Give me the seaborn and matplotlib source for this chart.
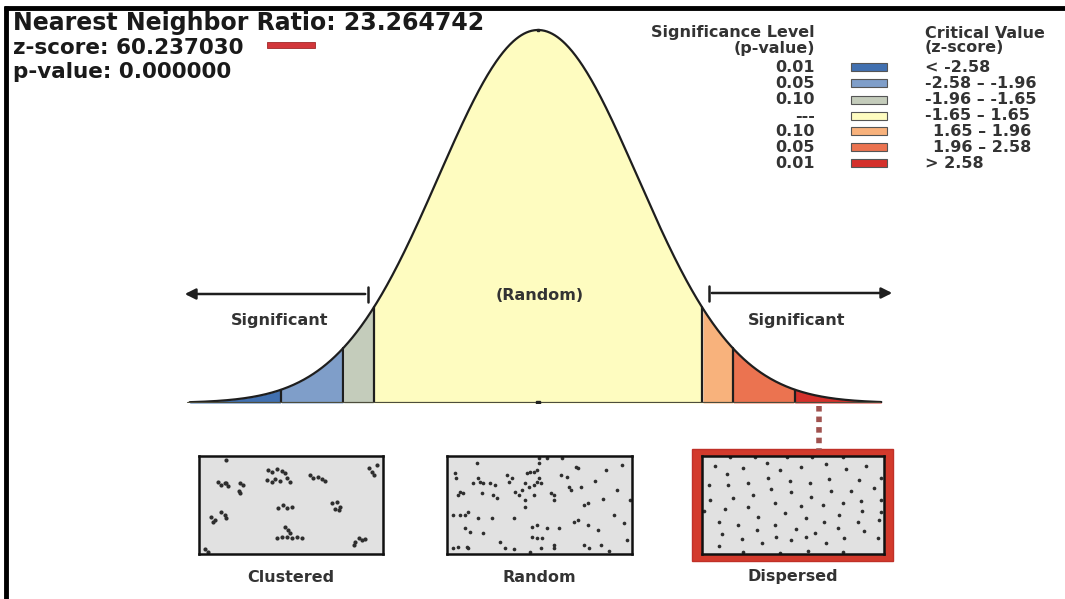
import numpy as np
import pandas as pd
import matplotlib
matplotlib.use("Agg")
import matplotlib.pyplot as plt
from matplotlib.patches import Rectangle
import seaborn as sns

# ---------------- data ----------------
critical_z = [-2.58, -1.96, -1.65, 1.65, 1.96, 2.58]
band_colors = ["#4170b0", "#7f9ec9", "#c4ccbb", "#fefcc0", "#f8b27c", "#eb7350", "#d4302b"]
p_labels = ["0.01", "0.05", "0.10", "---", "0.10", "0.05", "0.01"]
z_labels = ["< -2.58", "-2.58 – -1.96", "-1.96 – -1.65", "-1.65 – 1.65",
            "1.65 – 1.96", "1.96 – 2.58", "> 2.58"]

nn_ratio = "23.264742"
z_score = "60.237030"
p_value = "0.000000"

pattern_labels = ["Clustered", "Random", "Dispersed"]

clustered_x = [82, 57, 67, 77, 87, 82, 122, 132, 120, 122, 207, 217, 232, 247, 257, 202, 217, 227,
               242, 262, 272, 332, 342, 357, 367, 377, 507, 517, 532, 522, 237, 252, 262, 277, 397,
               412, 422, 407, 417, 37, 47, 67, 77, 82, 42, 257, 267, 272, 232, 247, 262, 277, 292,
               307, 467, 477, 487, 497, 462, 17, 27]
clustered_y = [12, 77, 87, 82, 90, 80, 82, 87, 104, 112, 42, 47, 40, 44, 52, 72, 77, 70, 74, 67,
               77, 57, 67, 64, 70, 74, 37, 47, 27, 57, 157, 147, 157, 152, 142, 137, 152, 160, 162,
               182, 192, 167, 177, 187, 197, 212, 222, 232, 247, 242, 244, 247, 242, 247, 257, 247,
               252, 250, 267, 280, 287]

random_x = [23, 28, 88, 93, 98, 78, 108, 128, 143, 138, 148, 178, 183, 193, 203, 213, 238, 248,
            258, 268, 273, 273, 268, 258, 243, 233, 223, 273, 278, 308, 318, 318, 338, 358, 368,
            363, 383, 388, 398, 408, 418, 343, 298, 38, 48, 33, 103, 18, 38, 53, 63, 93, 133, 198,
            233, 53, 68, 108, 253, 268, 298, 333, 378, 388, 418, 18, 33, 58, 63, 158, 173, 198,
            248, 278, 253, 268, 283, 318, 318, 408, 423, 233, 258, 474, 519, 543, 495, 534, 459,
            504, 450, 483, 440, 525, 465]
random_y = [52, 67, 22, 67, 77, 82, 82, 82, 87, 117, 127, 57, 77, 67, 107, 117, 52, 47, 47, 42,
            22, 7, 77, 87, 92, 82, 102, 67, 82, 112, 117, 132, 57, 62, 102, 92, 32, 37, 92, 147,
            142, 7, 7, 107, 112, 117, 112, 177, 177, 177, 167, 187, 187, 187, 152, 217, 227, 232,
            212, 207, 217, 217, 197, 192, 207, 277, 272, 272, 277, 257, 277, 280, 287, 277, 242,
            247, 247, 267, 277, 267, 277, 132, 117, 42, 27, 132, 177, 252, 267, 102, 222, 285,
            75, 200, 130]

dispersed_x = [40, 125, 195, 235, 300, 375, 435, 495, 75, 200, 265, 325, 385, 475, 540, 20, 80,
               140, 210, 270, 330, 390, 450, 520, 25, 95, 155, 220, 300, 365, 425, 480, 540, 70,
               140, 250, 315, 370, 415, 485, 50, 170, 220, 285, 340, 410, 470, 535, 60, 110, 165,
               225, 270, 315, 375, 430, 490, 532, 50, 120, 180, 125, 235, 320, 425, 85, 160, 257,
               333, 427, 5, 542]
dispersed_y = [30, 37, 22, 42, 32, 24, 40, 30, 55, 67, 74, 80, 70, 72, 67, 87, 87, 80, 99, 107,
               122, 104, 104, 97, 132, 127, 117, 140, 150, 147, 140, 135, 132, 160, 152, 172, 187,
               197, 177, 164, 197, 184, 207, 220, 232, 217, 197, 192, 235, 207, 222, 242, 252, 242,
               262, 245, 224, 245, 270, 250, 262, 287, 290, 285, 287, 4, 4, 4, 4, 4, 164, 167]

# ---------------- figure ----------------
W, H = 1065, 599
sns.set_theme(style="white")
plt.rcParams["font.family"] = ["DejaVu Sans"]
fig = plt.figure(figsize=(W / 100, H / 100), dpi=100)
fig.patch.set_facecolor("white")


def px_axes(x0, y0, x1, y1, **kw):
    return fig.add_axes([x0 / W, 1 - y1 / H, (x1 - x0) / W, (y1 - y0) / H], **kw)


# bell curve axes: z=0 at x=538, ~99.5 px per z unit, baseline at y=403
zlim = 3.6
ax = px_axes(538 - zlim * 99.5, 25, 538 + zlim * 99.5, 403)
ax.set_xlim(-zlim, zlim)
peak = 1 / np.sqrt(2 * np.pi)
ax.set_ylim(0, peak * 378 / 373)
ax.axis("off")

z_lo, z_hi = -3.5, 3.45
z = np.linspace(z_lo, z_hi, 800)
pdf = np.exp(-z ** 2 / 2) / np.sqrt(2 * np.pi)
curve = pd.DataFrame({"z": z, "density": pdf})

edges = [z_lo] + critical_z + [z_hi]
for a, b, c in zip(edges[:-1], edges[1:], band_colors):
    m = (curve.z >= a) & (curve.z <= b)
    ax.fill_between(curve.z[m], 0, curve.density[m], color=c, lw=0, zorder=1)
for c in critical_z:
    h = np.exp(-c ** 2 / 2) / np.sqrt(2 * np.pi)
    ax.plot([c, c], [0, h], color="#1e1e1e", lw=1.6, zorder=3)
sns.lineplot(data=curve, x="z", y="density", ax=ax, color="#1e1e1e", lw=1.6, zorder=4)
ax.plot([-3.52, 3.44], [0, 0], color="#4d4d3d", lw=1.6, zorder=4)
ax.plot([0], [0], marker="s", ms=2.5, color="#222", zorder=5)
ax.plot([0], [peak], marker="s", ms=2, color="#222", zorder=5)

# overlay in pixel coordinates for annotations
ov = fig.add_axes([0, 0, 1, 1], zorder=5)
ov.set_xlim(0, W)
ov.set_ylim(H, 0)
ov.axis("off")
ov.patch.set_alpha(0)

# frame
ov.plot([4, W], [7.5, 7.5], color="black", lw=3.5, solid_capstyle="butt")
ov.plot([6, 6], [6, H], color="black", lw=3.5, solid_capstyle="butt")

# statistics
ov.text(13, 23, f"Nearest Neighbor Ratio: {nn_ratio}", fontsize=17, fontweight="bold",
        color="#1a1a1a", va="center", ha="left")
ov.text(13, 48, f"z-score: {z_score}", fontsize=15.5, fontweight="bold",
        color="#1a1a1a", va="center", ha="left")
ov.add_patch(Rectangle((267, 42), 48, 6, facecolor="#d2363a", edgecolor="#a02828", lw=0.6))
ov.text(13, 72, f"p-value: {p_value}", fontsize=15.5, fontweight="bold",
        color="#1a1a1a", va="center", ha="left")

# legend
lg = dict(fontsize=11.5, fontweight="bold", color="#333333", va="center")
ov.text(815, 33, "Significance Level", ha="right", **lg)
ov.text(815, 48, "(p-value)", ha="right", **lg)
ov.text(925, 33, "Critical Value", ha="left", **lg)
ov.text(925, 48, "(z-score)", ha="left", **lg)
row_y = [67, 83, 100, 116, 131, 147, 163]
for y, p, zl, c in zip(row_y, p_labels, z_labels, band_colors):
    ov.text(815, y, p, ha="right", **lg)
    ov.add_patch(Rectangle((851, y - 4), 36, 8, facecolor=c, edgecolor="#555555", lw=0.8))
    xoff = 933 if zl[0].isdigit() else 925
    ov.text(xoff, y, zl, ha="left", **lg)

# arrows and region labels
ov.annotate("", xy=(182, 294), xytext=(368, 294),
            arrowprops=dict(arrowstyle="-|>", color="#1e1e1e", lw=1.8, mutation_scale=16))
ov.plot([368, 368], [287, 302], color="#1e1e1e", lw=1.8)
ov.annotate("", xy=(895, 293), xytext=(709, 293),
            arrowprops=dict(arrowstyle="-|>", color="#1e1e1e", lw=1.8, mutation_scale=16))
ov.plot([709, 709], [286, 301], color="#1e1e1e", lw=1.8)
ov.text(280, 320, "Significant", ha="center", **lg)
ov.text(797, 320, "Significant", ha="center", **lg)
ov.text(540, 296, "(Random)", ha="center", **lg)

# link from the observed z-score to the dispersed pattern
ov.plot([819, 819], [406, 450], color="#a0524f", lw=4, linestyle=(0, (1.0, 0.9)),
        solid_capstyle="butt")

# pattern panels
ov.add_patch(Rectangle((692, 449), 201, 112, facecolor="#d33a2c", edgecolor="#c03028", lw=1))
boxes = [(199, 456, 383, 554), (447, 456, 632, 554), (702, 456, 884, 554)]
patterns = [(clustered_x, clustered_y, 9), (random_x, random_y, 7), (dispersed_x, dispersed_y, 7)]
for (x0, y0, x1, y1), (px, py, s), lab in zip(boxes, patterns, pattern_labels):
    bx = px_axes(x0, y0, x1, y1, zorder=6)
    bx.set_facecolor("#e1e1e1")
    pts = pd.DataFrame({"x": px, "y": py})
    sns.scatterplot(data=pts, x="x", y="y", ax=bx, s=s, color="#2e2e2e", linewidth=0)
    bx.set_xlim(0, 550)
    bx.set_ylim(294, 0)
    bx.set_xticks([])
    bx.set_yticks([])
    bx.set_xlabel("")
    bx.set_ylabel("")
    for sp in bx.spines.values():
        sp.set_visible(True)
        sp.set_color("#111111")
        sp.set_linewidth(1.8)
    ov.text((x0 + x1) / 2, 577, lab, ha="center", **lg)

fig.savefig("out.png", dpi=100, facecolor="white")
